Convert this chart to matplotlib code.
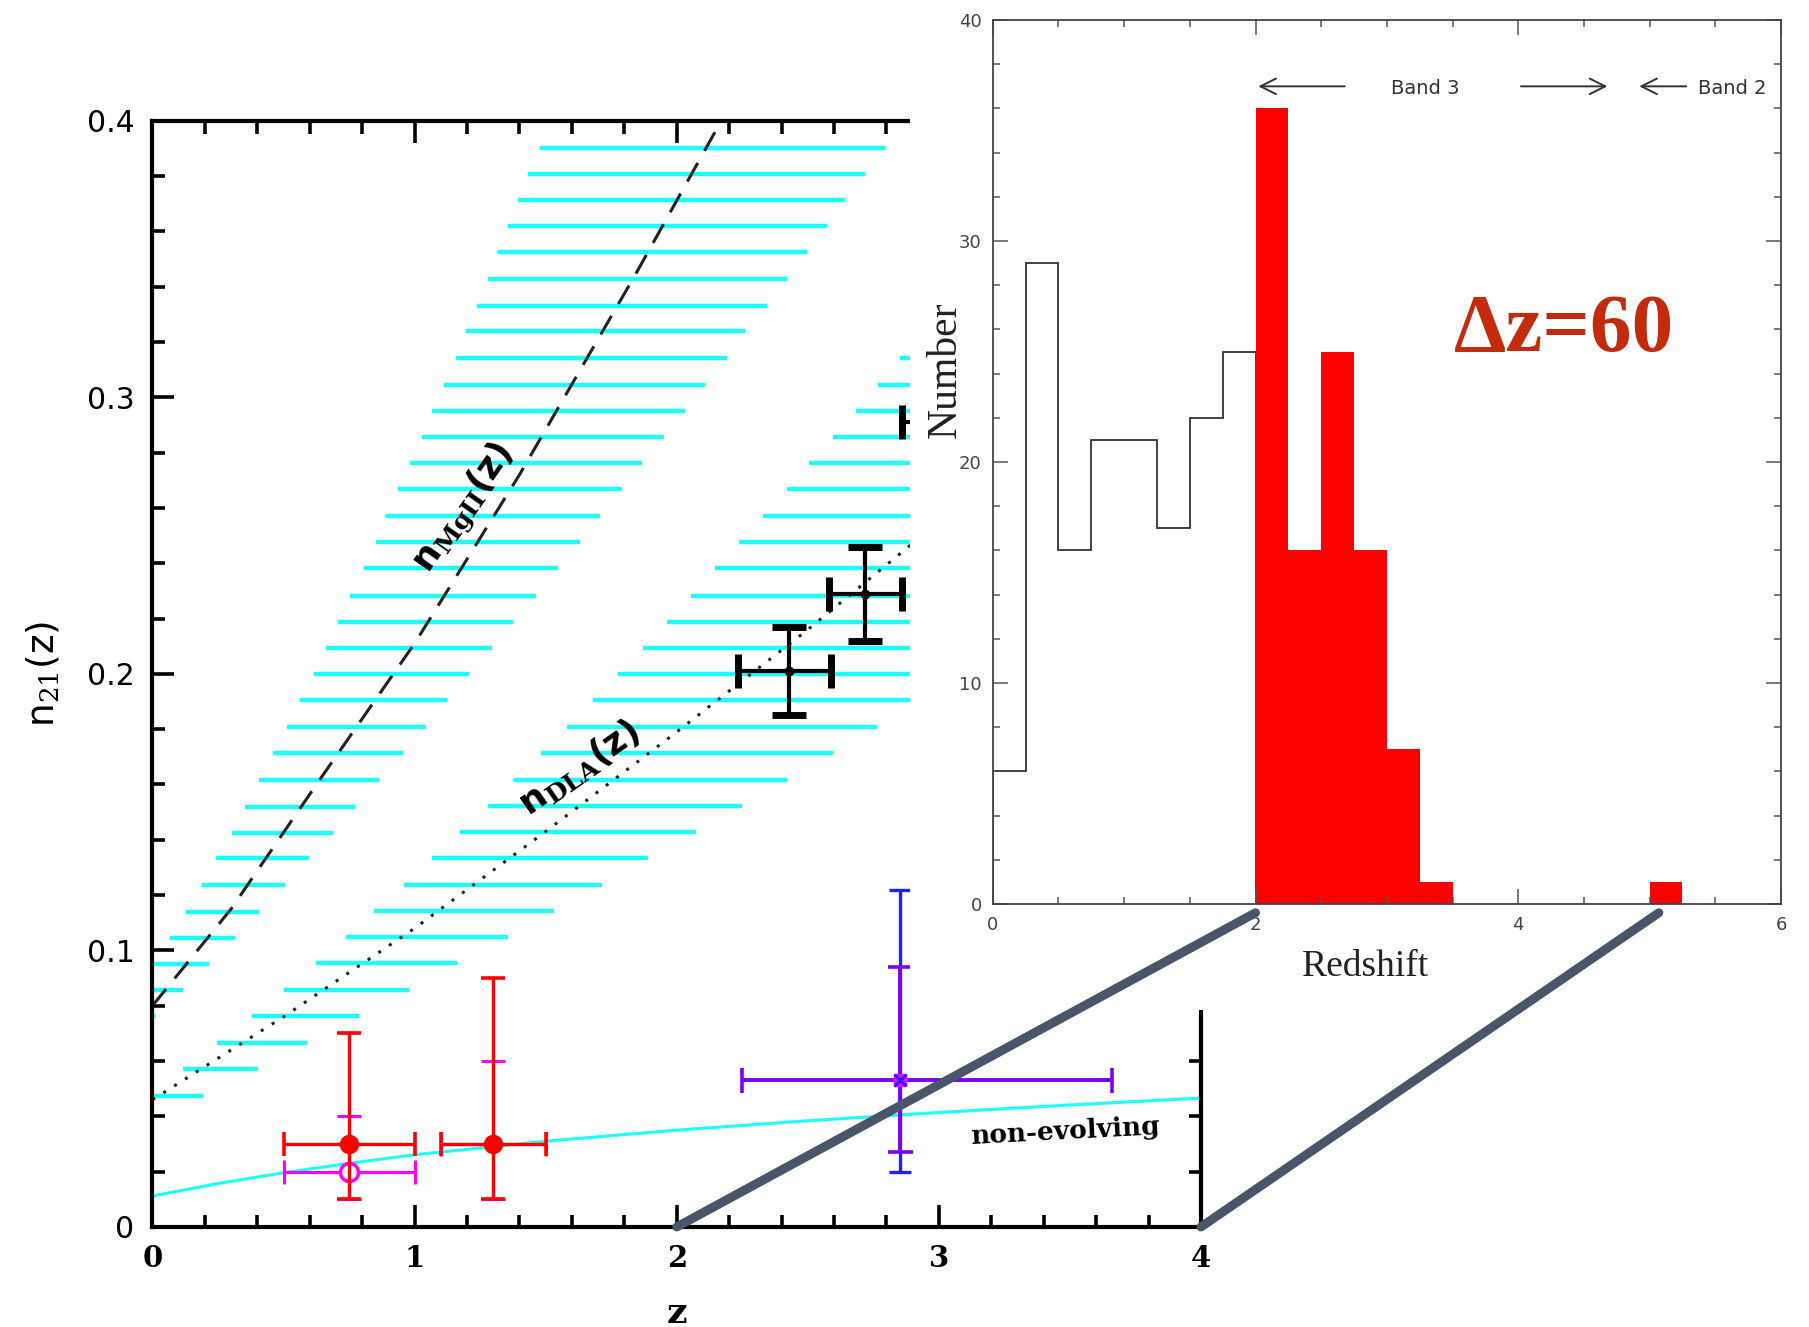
import matplotlib
matplotlib.use("Agg")
import matplotlib.pyplot as plt
from matplotlib.patches import Rectangle, ConnectionPatch
from matplotlib.ticker import MultipleLocator

plt.rcParams['mathtext.fontset'] = 'dejavuserif'

# === MgII band: cyan bars, n level and z range ===
mg_n = [0.3903, 0.3806, 0.3713, 0.3619, 0.3524, 0.3428, 0.3331, 0.3238, 0.3143,
        0.3045, 0.2950, 0.2856, 0.2762, 0.2667, 0.2571, 0.2475, 0.2382, 0.2282,
        0.2188, 0.2094, 0.1998, 0.1905, 0.1809, 0.1713, 0.1616, 0.1520, 0.1426,
        0.1333, 0.1236, 0.1140, 0.1046, 0.0951, 0.0857, 0.0763]
mg_zlo = [1.478, 1.432, 1.394, 1.356, 1.318, 1.280, 1.238, 1.196, 1.157, 1.112,
          1.066, 1.028, 0.982, 0.936, 0.890, 0.852, 0.806, 0.753, 0.708, 0.662,
          0.616, 0.563, 0.513, 0.460, 0.406, 0.353, 0.303, 0.242, 0.189, 0.128,
          0.067, 0.002, -0.06, -0.12]
mg_zhi = [2.794, 2.717, 2.641, 2.572, 2.496, 2.420, 2.344, 2.260, 2.191, 2.107,
          2.031, 1.951, 1.867, 1.791, 1.707, 1.630, 1.547, 1.463, 1.375, 1.295,
          1.207, 1.123, 1.043, 0.955, 0.864, 0.772, 0.688, 0.597, 0.505, 0.406,
          0.315, 0.215, 0.116, 0.010]

# === DLA band ===
dla_n = [0.3143, 0.3045, 0.2950, 0.2856, 0.2762, 0.2667, 0.2571, 0.2475, 0.2382,
         0.2282, 0.2188, 0.2094, 0.1998, 0.1905, 0.1809, 0.1713, 0.1616, 0.1522,
         0.1427, 0.1333, 0.1236, 0.1142, 0.1049, 0.0953, 0.0857, 0.0763, 0.0666,
         0.0571, 0.0474]
dla_zlo = [2.851, 2.767, 2.683, 2.595, 2.504, 2.420, 2.328, 2.237, 2.145, 2.054,
           1.962, 1.871, 1.776, 1.680, 1.581, 1.482, 1.380, 1.281, 1.174, 1.067,
           0.960, 0.845, 0.739, 0.624, 0.502, 0.380, 0.246, 0.116, -0.05]
dla_zhi = [4.0, 4.0, 4.0, 4.0, 4.0, 4.0, 3.93, 3.80, 3.67, 3.53, 3.39, 3.24,
           3.09, 2.93, 2.763, 2.596, 2.420, 2.248, 2.073, 1.890, 1.716, 1.531,
           1.356, 1.162, 0.979, 0.788, 0.590, 0.403, 0.193]

# === curves ===
mg_curve_z = [0, 0.3, 0.64, 1.0, 1.4, 1.84, 2.17]
mg_curve_n = [0.080, 0.115, 0.162, 0.211, 0.272, 0.344, 0.400]
dla_curve_z = [0, 0.5, 1.0, 1.5, 2.0, 2.5, 3.0]
dla_curve_n = [0.046, 0.076, 0.108, 0.143, 0.179, 0.216, 0.255]
flat_z = [0, 0.25, 0.5, 0.75, 1.0, 1.5, 2.0, 2.5, 3.0, 3.5, 4.0]
flat_n = [0.0112, 0.0157, 0.0196, 0.0230, 0.0261, 0.0310, 0.0350, 0.0384,
          0.0414, 0.0441, 0.0466]

# === measurements ===
blk_z = [2.43, 2.72, 3.05]
blk_n = [0.201, 0.229, 0.291]
blk_zlo = [0.195, 0.14, 0.19]
blk_zhi = [0.16, 0.14, 0.19]
blk_nerr = [0.016, 0.017, 0.02]

red_z = [0.75, 1.30]
red_n = [0.03, 0.03]
red_zlo = [0.25, 0.20]
red_zhi = [0.25, 0.20]
red_nlo = [0.02, 0.02]
red_nhi = [0.04, 0.06]

mag_z = [0.75, 1.30]
mag_n = [0.02, 0.03]
mag_zlo = [0.25, 0.20]
mag_zhi = [0.25, 0.20]
mag_nlo = [0.01, 0.02]
mag_nhi = [0.02, 0.03]

blue_z, blue_n = 2.85, 0.053
blue_zlo, blue_zhi = 0.60, 0.81
blue_nlo, blue_nhi = 0.033, 0.069
pur_nlo, pur_nhi = 0.026, 0.041

x_ticks = [0, 1, 2, 3, 4]
y_ticks = [0, 0.1, 0.2, 0.3, 0.4]
y_tick_labels = ['0', '0.1', '0.2', '0.3', '0.4']

# === inset histogram (bins of 0.25) ===
open_edges = [0, 0.25, 0.5, 0.75, 1.0, 1.25, 1.5, 1.75, 2.0]
open_counts = [6, 29, 16, 21, 21, 17, 22, 25]
red_left = [2.0, 2.25, 2.5, 2.75, 3.0, 3.25, 5.0]
red_counts = [36, 16, 25, 16, 7, 1, 1]

# zoom link: main z -> inset redshift
link_main = [2, 4]
link_inset = [2, 5.07]

fig = plt.figure(figsize=(18.09, 13.27), dpi=100)
ax = fig.add_axes([0.0843, 0.0754, 0.5796, 0.8336], zorder=0)

cyan = '#1efcfc'
ax.hlines(mg_n, mg_zlo, mg_zhi, color=cyan, lw=3.2, zorder=1)
ax.hlines(dla_n, dla_zlo, dla_zhi, color=cyan, lw=3.2, zorder=1)
ax.plot(mg_curve_z, mg_curve_n, color='#222222', lw=2.2, ls=(0, (7, 4.5)), zorder=2)
ax.plot(dla_curve_z, dla_curve_n, color='#222222', lw=2.2, ls=(0, (1, 3.2)), zorder=2)
ax.plot(flat_z, flat_n, color=cyan, lw=2.2, zorder=2)

ax.text(1.19, 0.26, r'n$_{\mathbf{MgII}}$(z)', rotation=55, fontsize=26,
        fontweight='bold', ha='center', va='center', rotation_mode='anchor')
ax.text(1.63, 0.166, r'n$_{\mathbf{DLA}}$(z)', rotation=35, fontsize=26,
        fontweight='bold', ha='center', va='center', rotation_mode='anchor')
ax.text(3.48, 0.0345, 'non-evolving', rotation=3, fontsize=19, family='DejaVu Serif',
        fontweight='bold', ha='center', va='center')

# black points
ax.errorbar(blk_z, blk_n, xerr=[blk_zlo, blk_zhi], yerr=blk_nerr, fmt='o',
            color='black', ms=6, elinewidth=3, capsize=12, capthick=5, zorder=4)

# magenta then red
ax.errorbar(mag_z, mag_n, xerr=[mag_zlo, mag_zhi], yerr=[mag_nlo, mag_nhi], fmt='none',
            ecolor='#ff00ff', elinewidth=2.2, capsize=8.5, capthick=2.2, zorder=4)
ax.plot(mag_z[:1], mag_n[:1], 'o', mfc='white', mec='#ff00ff', mew=2.5, ms=13, zorder=5)
ax.errorbar(red_z, red_n, xerr=[red_zlo, red_zhi], yerr=[red_nlo, red_nhi], fmt='o',
            color='#ff0000', ms=13, elinewidth=2.4, capsize=8.5, capthick=2.6, zorder=6)

# blue / magenta point
ax.errorbar([blue_z], [blue_n], yerr=[[blue_nlo], [blue_nhi]], fmt='none',
            ecolor='#2020ff', elinewidth=2.4, capsize=8, capthick=2.4, zorder=4)
eb = ax.errorbar([blue_z], [blue_n], xerr=[[blue_zlo], [blue_zhi]],
                 yerr=[[pur_nlo], [pur_nhi]], fmt='none', ecolor='#7a00ff',
                 elinewidth=2.8, capsize=9, capthick=2.6, zorder=5)
for c in eb[1]:
    c.set_color('#ff00ff')
ax.plot([blue_z], [blue_n], 's', color='#ff00ff', ms=9, zorder=6)
ax.plot([blue_z], [blue_n], 'x', color='#2020ff', ms=8, mew=2, zorder=7)

ax.set_xlim(0, 4)
ax.set_ylim(0, 0.4)
ax.set_xticks(x_ticks, labels=[str(t) for t in x_ticks], fontsize=21,
              family='DejaVu Serif', fontweight='bold')
ax.set_yticks(y_ticks, labels=y_tick_labels, fontsize=21.5, family='DejaVu Sans')
ax.xaxis.set_minor_locator(MultipleLocator(0.2))
ax.yaxis.set_minor_locator(MultipleLocator(0.02))
ax.tick_params(which='both', direction='in', top=True, right=True)
ax.tick_params(which='major', length=16, width=2.6)
ax.tick_params(which='minor', length=9, width=2.6)
ax.tick_params(axis='x', pad=12)
ax.tick_params(axis='y', pad=13)
for s in ax.spines.values():
    s.set_linewidth(3)
ax.set_xlabel('z', fontsize=26, family='DejaVu Serif', fontweight='bold')
ax.xaxis.set_label_coords(0.5, -0.062)
ax.set_ylabel(r'n$_{21}$(z)', fontsize=27)
ax.yaxis.set_label_coords(-0.086, 0.5)

# white backing for the histogram panel
fig.add_artist(Rectangle((0.503, 0.2389), 0.497, 0.7611, transform=fig.transFigure,
                         facecolor='white', edgecolor='none', zorder=5))

# === inset ===
ins = fig.add_axes([0.5488, 0.3188, 0.4357, 0.6661], zorder=10)
ins.stairs(open_counts, open_edges, color='#333333', lw=1.3)
ins.bar(red_left, red_counts, width=0.25, align='edge', color='#fd0000', lw=0)
ins.set_xlim(0, 6)
ins.set_ylim(0, 40)
ins.xaxis.set_major_locator(MultipleLocator(2))
ins.xaxis.set_minor_locator(MultipleLocator(0.5))
ins.yaxis.set_major_locator(MultipleLocator(10))
ins.yaxis.set_minor_locator(MultipleLocator(2))
ins.tick_params(which='both', direction='in', top=True, right=True,
                color='#555555', labelcolor='#444444', labelsize=13)
ins.tick_params(which='major', length=11, width=1.1)
ins.tick_params(which='minor', length=5, width=1.1)
ins.tick_params(axis='x', pad=9)
ins.tick_params(axis='y', pad=8)
for s in ins.spines.values():
    s.set_linewidth(1.3)
    s.set_color('#444444')
ins.set_ylabel('Number', fontsize=30, family='Liberation Serif', color='#222222')
ins.yaxis.set_label_coords(-0.036, 0.604)
ins.set_xlabel('Redshift', fontsize=27, family='Liberation Serif', color='#222222')
ins.xaxis.set_label_coords(0.473, -0.052)

arrow = dict(arrowstyle='->', lw=1.4, color='#333333', mutation_scale=28)
ins.annotate('', xy=(2.0, 37), xytext=(2.7, 37), arrowprops=arrow)
ins.annotate('', xy=(4.7, 37), xytext=(4.0, 37), arrowprops=arrow)
ins.annotate('', xy=(4.9, 37), xytext=(5.3, 37), arrowprops=arrow)
ins.text(3.29, 36.9, 'Band 3', fontsize=14, color='#333333', ha='center', va='center')
ins.text(5.63, 36.9, 'Band 2', fontsize=14, color='#333333', ha='center', va='center')
ins.text(4.35, 25.9, '\u0394z=60', fontsize=60, family='Liberation Serif',
         fontweight='bold', color='#c42a0c', ha='center', va='center')

# zoom links
for za, zb in zip(link_main, link_inset):
    con = ConnectionPatch(xyA=(za, 0), coordsA=ax.transData,
                          xyB=(zb, -0.4), coordsB=ins.transData,
                          color='#4a5568', lw=6.5, zorder=20)
    fig.add_artist(con)

fig.savefig('out.png', dpi=100)
